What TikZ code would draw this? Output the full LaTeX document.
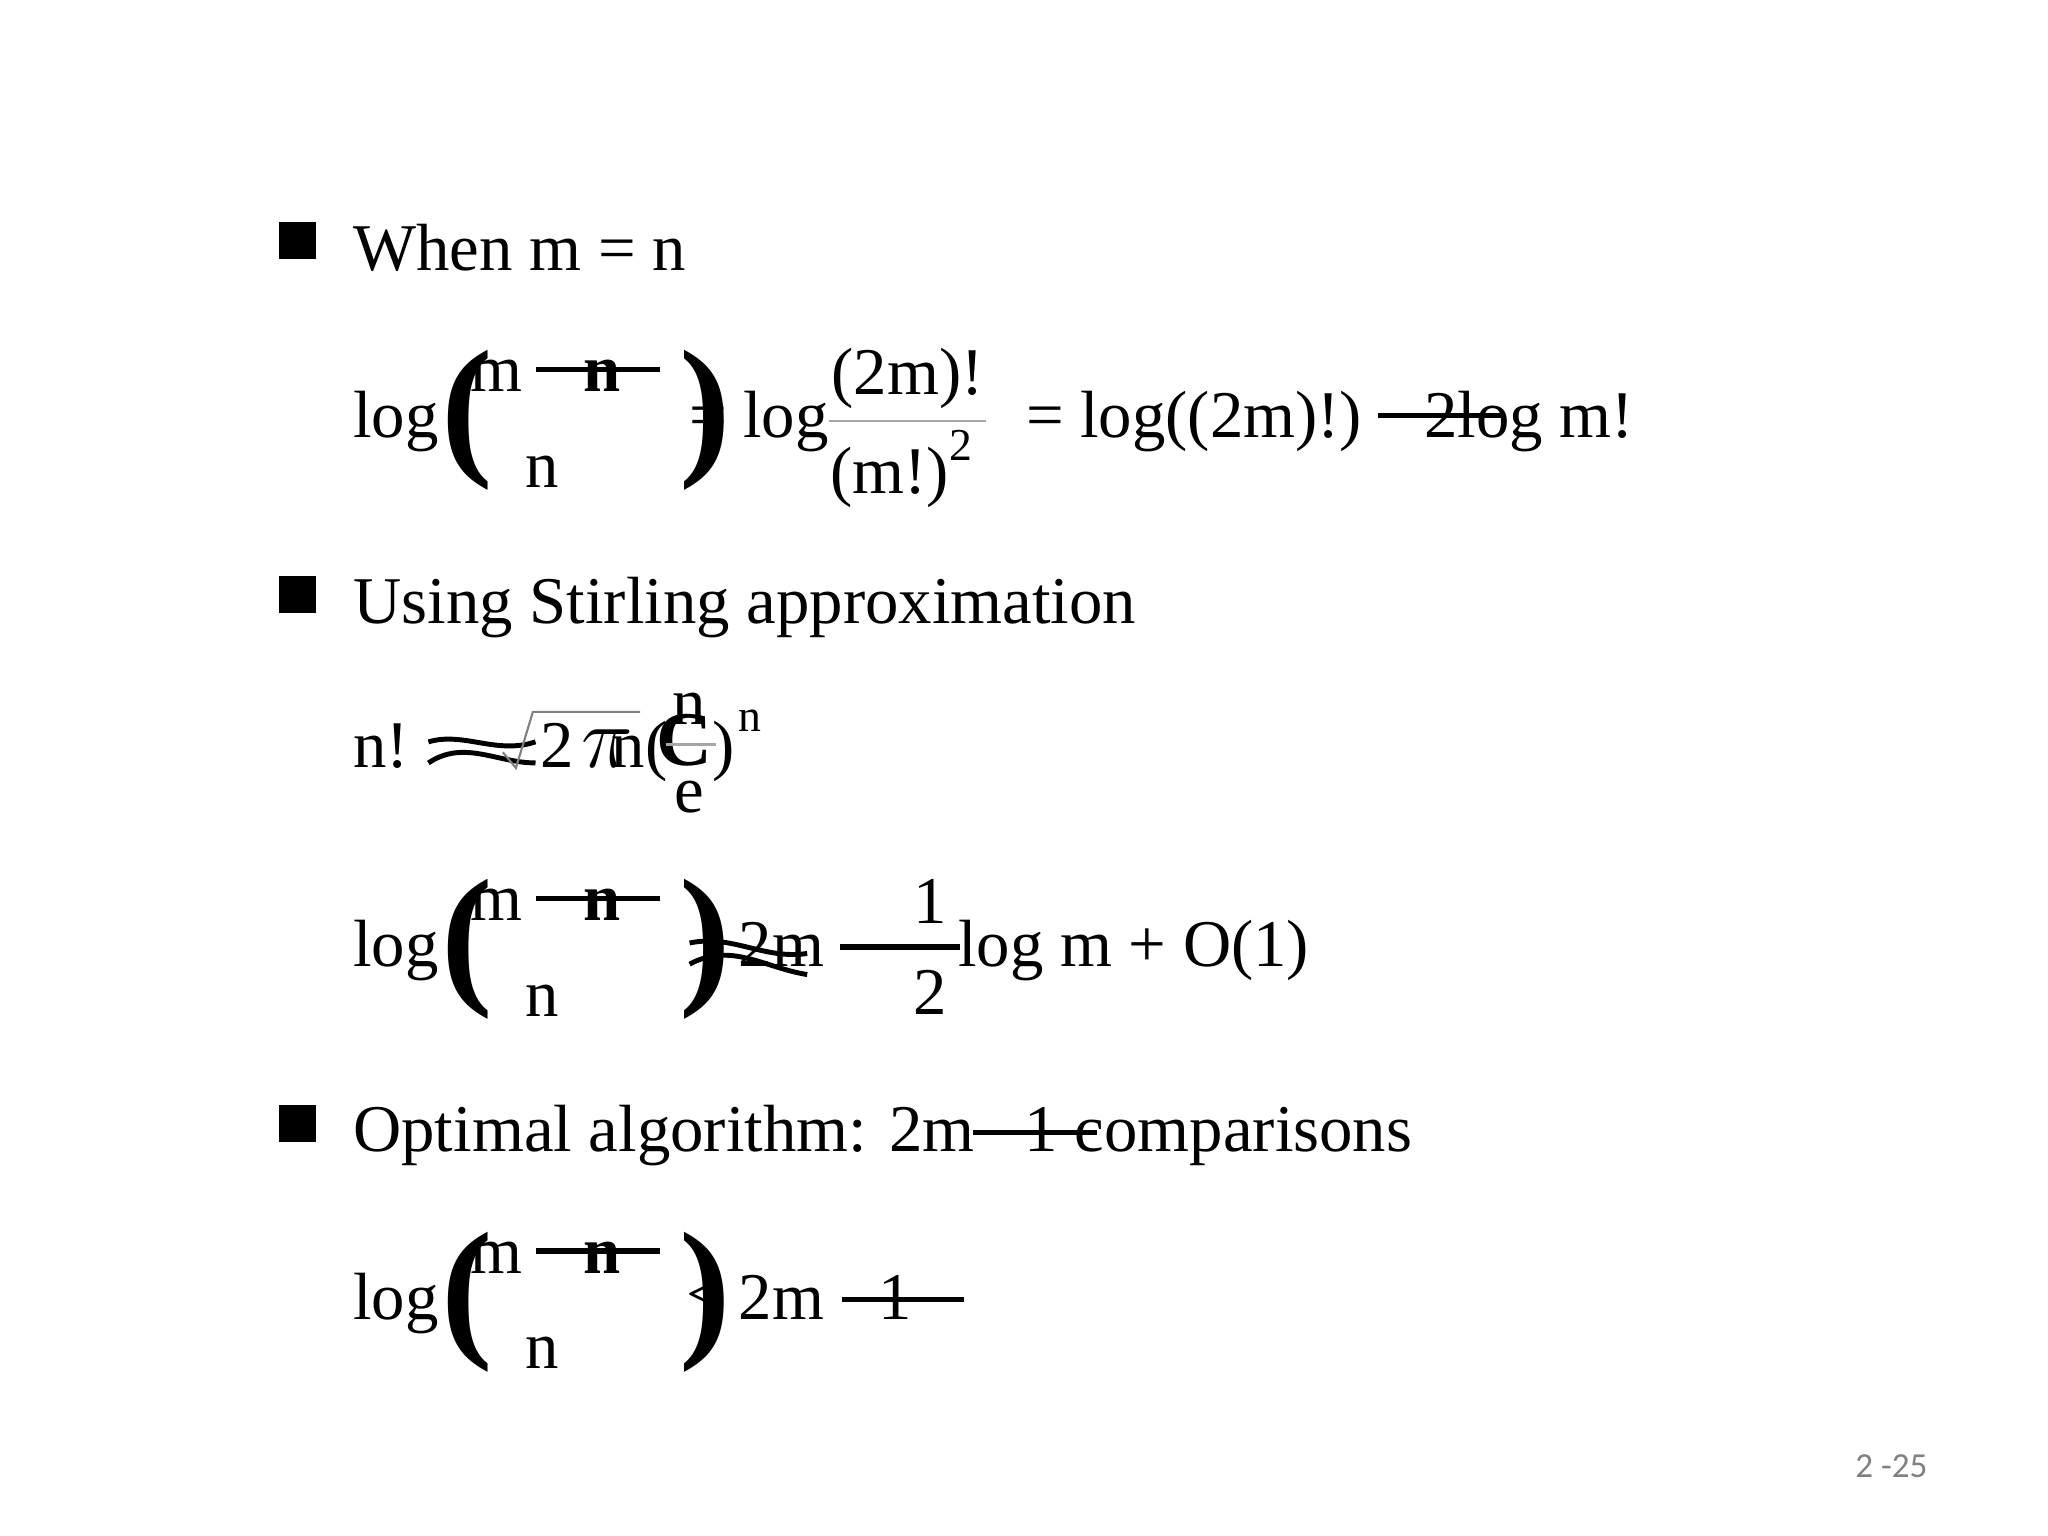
\documentclass[tikz,border=0pt]{standalone}
\usepackage{fontspec}
\setmainfont{Liberation Serif}
\newfontfamily\slidenum{Carlito}
\newcommand{\BinomBlock}[2]{%
  \node[txt,anchor=base west] (#2log) at (270,#1) {log};
  \node[anchor=center,inner sep=0pt,font=\fontsize{44}{44}\selectfont\bfseries] (#2lp) at (358,#1-13) {(};
  \node[anchor=center,inner sep=0pt,font=\fontsize{44}{44}\selectfont\bfseries] (#2rp) at (540,#1-13) {)};
  \node[txt,anchor=base west] (#2m) at (360,#1-35) {m};
  \node[txt,anchor=base west,font=\fontsize{19}{22}\selectfont\bfseries] (#2n) at (446,#1-35) {n};
  \node[txt,anchor=base west] (#2nb) at (402,#1+38) {n};
  \coordinate (#2sa) at (410,#1-52);
  \coordinate (#2sb) at (505,#1-52);
  \draw[strike] (#2sa) -- (#2sb);
}
\begin{document}
\begin{tikzpicture}[x=0.01306cm,y=-0.01306cm,
  txt/.style={inner sep=0pt,font=\fontsize{19}{22}\selectfont},
  bul/.style={fill=black,minimum size=0.37cm,inner sep=0pt},
  strike/.style={line width=1.6pt}]
\useasboundingbox (0,0) rectangle (1568,1176);
% bullets
\node[bul] (b1) at (228,184) {};
\node[bul] (b2) at (228,455) {};
\node[bul] (b3) at (228,860) {};
\node[txt,anchor=base west] (t1) at (270,207) {When m = n};
\node[txt,anchor=base west] (t2) at (270,477) {Using Stirling approximation};
\node[txt,anchor=base west] (t3) at (270,882) {Optimal algorithm: 2m};
\node[txt,anchor=base west] (t3b) at (784,882) {1 comparisons};
\coordinate (s3a) at (745,867); \coordinate (s3b) at (840,867);
\draw[strike] (s3a) -- (s3b);
% line 1
\BinomBlock{335}{A}
\node[txt,anchor=base west] (Aeq) at (527,335) {= log};
\node[txt,anchor=base] (Anum) at (695,302) {(2m)!};
\node[txt,anchor=base] (Aden) at (690,378) {(m!)\raisebox{0.5em}{\fontsize{13}{13}\selectfont 2}};
\coordinate (Afa) at (635,322); \coordinate (Afb) at (755,322);
\draw[gray!70,line width=0.6pt] (Afa) -- (Afb);
\node[txt,anchor=base west] (Arest) at (785,335) {= log((2m)!)};
\node[txt,anchor=base west] (Arest2) at (1090,335) {2log m!};
\coordinate (Asa) at (1055,318); \coordinate (Asb) at (1150,318);
\draw[strike] (Asa) -- (Asb);
% Stirling
\node[txt,anchor=base west] (Sn) at (270,588) {n!};
\coordinate (Swa) at (328,568); \coordinate (Swb) at (410,568);
\draw[line width=1.4pt] (Swa) .. controls (355,560) and (380,578) .. (Swb);
\draw[line width=1.4pt] ([yshift=-6]Swa) .. controls (355,566) and (380,584) .. ([yshift=-6]Swb);
\coordinate (Sq1) at (385,576); \coordinate (Sq2) at (395,588); \coordinate (Sq3) at (408,545); \coordinate (Sq4) at (490,545);
\draw[gray,line width=0.6pt] (Sq1) -- (Sq2) -- (Sq3) -- (Sq4);
\node[txt,anchor=base west] (S2) at (413,588) {2};
\node[txt,anchor=base west,font=\fontsize{24}{24}\selectfont] (Spi) at (445,588) {$\pi$};
\node[txt,anchor=base west] (Sn2) at (468,588) {n(};
\node[txt,anchor=base west,font=\fontsize{22}{22}\selectfont\bfseries] (Se) at (502,586) {C};
\node[txt,anchor=base] (Snum) at (528,555) {n};
\node[txt,anchor=base] (Sden) at (528,622) {e};
\coordinate (Sfa) at (510,570); \coordinate (Sfb) at (548,570);
\draw[gray!70,line width=0.6pt] (Sfa) -- (Sfb);
\node[txt,anchor=base west] (Sp) at (545,588) {)};
\node[txt,anchor=base west,font=\fontsize{13}{13}\selectfont] (Ssup) at (565,560) {n};
% line 3
\BinomBlock{740}{B}
\node[txt,anchor=base west] (B2m) at (565,740) {2m};
\coordinate (Bwa) at (528,722); \coordinate (Bwb) at (618,730);
\draw[line width=1.4pt] (Bwa) .. controls (560,715) and (585,735) .. (Bwb);
\draw[line width=1.4pt] ([yshift=-6]Bwa) .. controls (560,721) and (585,741) .. ([yshift=-6]Bwb);
\coordinate (Bma) at (643,725); \coordinate (Bmb) at (735,725);
\draw[strike] (Bma) -- (Bmb);
\node[txt,anchor=base] (Bnum) at (712,707) {1};
\node[txt,anchor=base] (Bden) at (712,777) {2};
\node[txt,anchor=base west] (Brest) at (733,740) {log m + O(1)};
% line 4
\BinomBlock{1010}{C}
\node[txt,anchor=base west] (Clt) at (525,1008) {<};
\node[txt,anchor=base west] (C2m) at (565,1010) {2m};
\node[txt,anchor=base west] (C1) at (672,1010) {1};
\coordinate (Cma) at (645,995); \coordinate (Cmb) at (738,995);
\draw[strike] (Cma) -- (Cmb);
% page number
\node[anchor=base west,inner sep=0pt,font=\slidenum\fontsize{10}{12}\selectfont,text=gray] (pg) at (1420,1131) {2 -25};
\end{tikzpicture}
\end{document}
